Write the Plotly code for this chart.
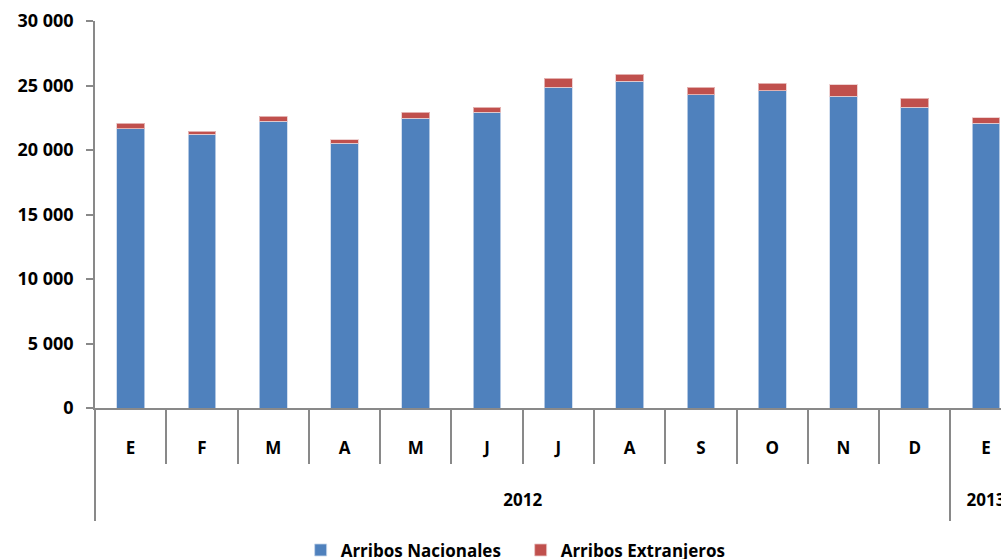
import plotly.graph_objects as go

months = ["E", "F", "M", "A", "M", "J", "J", "A", "S", "O", "N", "D", "E"]
years = ["2012", "2013"]
year_spans = [12, 1]  # number of months in each year group
nacionales = [21630, 21210, 22220, 20520, 22480, 22920, 24850, 25320, 24300, 24600, 24160, 23310, 22070]
extranjeros = [440, 260, 380, 260, 440, 390, 710, 550, 550, 570, 880, 720, 430]
y_ticks = [0, 5000, 10000, 15000, 20000, 25000, 30000]

font_family = "Open Sans, Liberation Sans, Arial, sans-serif"
axis_color = "#898989"
fsize = 17

xpos = list(range(len(months)))

# year label centers and group boundaries derived from the spans
year_centers, year_bounds = [], []
start = 0
for span in year_spans:
    year_bounds.append(start - 0.5)
    year_centers.append(start + (span - 1) / 2)
    start += span

fig = go.Figure()
fig.add_trace(go.Bar(
    x=xpos, y=nacionales, name="Arribos Nacionales",
    marker=dict(color="#4F81BD", line=dict(color="rgba(200,215,235,0.8)", width=1)),
))
fig.add_trace(go.Bar(
    x=xpos, y=extranjeros, name="Arribos Extranjeros",
    marker=dict(color="#C0504D", line=dict(color="rgba(235,200,200,0.8)", width=1)),
))
# invisible trace to hold the year axis
fig.add_trace(go.Scatter(x=year_centers, y=[0] * len(year_centers), xaxis="x2",
                         mode="markers", marker=dict(opacity=0), showlegend=False,
                         hoverinfo="skip"))

xrange = [-0.5, 12.21]
fig.update_layout(
    width=1001, height=559,
    barmode="stack", bargap=0.61,
    plot_bgcolor="white", paper_bgcolor="white",
    separators=", ",
    margin=dict(l=95, r=0, t=21, b=151, autoexpand=False),
    font=dict(family=font_family, size=fsize, color="black"),
    showlegend=True,
    legend=dict(orientation="h", x=0.227, xanchor="left", y=-0.368, yanchor="middle",
                entrywidth=175, entrywidthmode="pixels",
                font=dict(size=fsize, family=font_family, weight="bold"),
                traceorder="normal"),
    xaxis=dict(
        range=xrange, tickmode="array", tickvals=xpos, ticktext=months,
        showline=True, linecolor=axis_color, linewidth=1.5,
        ticks="", ticklabelstandoff=24, ticklabeloverflow="allow",
        minor=dict(ticks="outside", tickmode="linear", tick0=-0.5, dtick=1,
                   ticklen=54, tickcolor=axis_color, tickwidth=1.5),
        tickfont=dict(size=fsize, family=font_family, weight="bold"),
        showgrid=False, zeroline=False,
    ),
    xaxis2=dict(
        range=xrange, overlaying="x", anchor="y", side="bottom",
        tickmode="array", tickvals=year_centers, ticktext=years,
        showline=False, ticks="", ticklabelstandoff=80, ticklabeloverflow="allow",
        minor=dict(ticks="outside", tickmode="array", tickvals=year_bounds,
                   ticklen=112, tickcolor=axis_color, tickwidth=1.5),
        tickfont=dict(size=fsize, family=font_family, weight="bold"),
        showgrid=False, zeroline=False,
    ),
    yaxis=dict(
        range=[0, 30000], tickvals=y_ticks, tickformat=",d",
        showline=True, linecolor=axis_color, linewidth=1.5,
        ticks="outside", ticklen=7, tickcolor=axis_color, tickwidth=1.5,
        ticklabelstandoff=9,
        showgrid=False, zeroline=False,
        tickfont=dict(size=18, family=font_family, weight="bold"),
    ),
)

fig.write_html(
    "out.html",
    config={"displayModeBar": False},
    post_script="document.body.style.margin='0';document.body.style.overflow='hidden';",
)
